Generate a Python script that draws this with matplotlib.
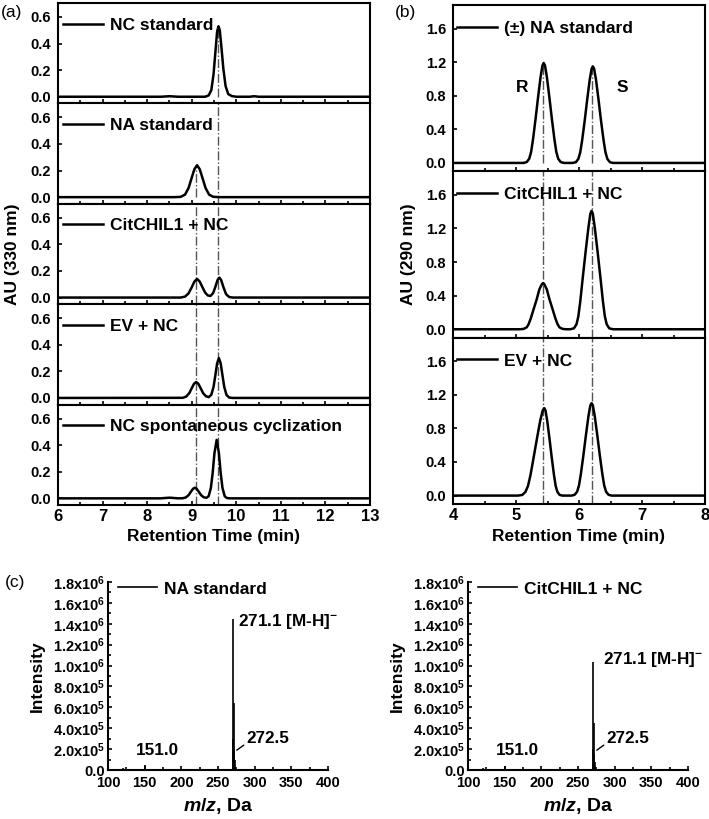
import matplotlib
matplotlib.use("Agg")
import matplotlib.pyplot as plt
from matplotlib.lines import Line2D
from matplotlib.ticker import MultipleLocator
from matplotlib import font_manager

plt.rcParams['font.family'] = ['Liberation Sans', 'DejaVu Sans']
plt.rcParams['font.weight'] = 'bold'
plt.rcParams['axes.labelweight'] = 'bold'
plt.rcParams['mathtext.fontset'] = 'custom'
plt.rcParams['mathtext.rm'] = 'Liberation Sans:bold'
plt.rcParams['mathtext.bf'] = 'Liberation Sans:bold'
plt.rcParams['mathtext.it'] = 'Liberation Sans:italic:bold'

installed = {f.name for f in font_manager.fontManager.ttflist}
narrow = 'Liberation Sans Narrow' if 'Liberation Sans Narrow' in installed else 'Liberation Sans'

# ---------------- (a) HPLC 330 nm ----------------
a_labels = ["NC standard", "NA standard", "CitCHIL1 + NC", "EV + NC",
            "NC spontaneous cyclization"]

a_t1 = [6.0, 8.3, 8.5, 8.7, 9.3, 9.38, 9.44, 9.49, 9.53, 9.57, 9.60, 9.63, 9.67,
        9.71, 9.76, 9.82, 9.90, 10.0, 10.3, 10.4, 10.5, 13.0]
a_y1 = [0, 0, 0.004, 0, 0, 0.01, 0.05, 0.17, 0.33, 0.49, 0.53, 0.50, 0.36,
        0.21, 0.08, 0.02, 0.005, 0, 0, 0.004, 0, 0]

a_t2 = [6.0, 8.6, 8.75, 8.85, 8.93, 9.0, 9.06, 9.12, 9.18, 9.24, 9.31, 9.39,
        9.48, 9.6, 13.0]
a_y2 = [0, 0, 0.002, 0.019, 0.069, 0.146, 0.21, 0.24, 0.21, 0.146, 0.069,
        0.019, 0.003, 0, 0]

a_t3 = [6.0, 8.75, 8.85, 8.93, 9.0, 9.06, 9.12, 9.18, 9.24, 9.30, 9.36, 9.42,
        9.48, 9.53, 9.58, 9.62, 9.66, 9.71, 9.77, 9.84, 9.92, 13.0]
a_y3 = [0, 0, 0.007, 0.032, 0.077, 0.12, 0.14, 0.12, 0.078, 0.038, 0.016,
        0.012, 0.033, 0.08, 0.132, 0.15, 0.132, 0.08, 0.026, 0.004, 0, 0]

a_t4 = [6.0, 8.8, 8.88, 8.95, 9.0, 9.05, 9.1, 9.15, 9.2, 9.26, 9.32, 9.38,
        9.44, 9.49, 9.53, 9.57, 9.61, 9.65, 9.69, 9.73, 9.78, 9.84, 9.92, 13.0]
a_y4 = [0, 0.001, 0.011, 0.039, 0.073, 0.106, 0.12, 0.106, 0.073, 0.034,
        0.013, 0.006, 0.024, 0.083, 0.17, 0.26, 0.30, 0.26, 0.17, 0.083,
        0.023, 0.003, 0, 0]

a_t5 = [6.0, 8.3, 8.5, 8.7, 8.8, 8.87, 8.93, 8.98, 9.03, 9.07, 9.11, 9.16,
        9.21, 9.27, 9.33, 9.38, 9.43, 9.47, 9.51, 9.56, 9.61, 9.65, 9.69,
        9.74, 9.79, 9.88, 13.0]
a_y5 = [0, 0, 0.005, 0, 0.001, 0.007, 0.024, 0.049, 0.072, 0.08, 0.072, 0.049,
        0.024, 0.008, 0.004, 0.016, 0.079, 0.19, 0.34, 0.44, 0.34, 0.19,
        0.079, 0.016, 0.002, 0, 0]

a_traces = [(a_t1, a_y1), (a_t2, a_y2), (a_t3, a_y3), (a_t4, a_y4), (a_t5, a_y5)]
a_ref_na, a_ref_nc = 9.1, 9.6

# ---------------- (b) chiral HPLC 290 nm ----------------
b_labels = ["(\u00b1) NA standard", "CitCHIL1 + NC", "EV + NC"]

b_t1 = [4.0, 5.12, 5.17, 5.21, 5.24, 5.27, 5.31, 5.35, 5.39, 5.42, 5.44, 5.46,
        5.49, 5.53, 5.57, 5.61, 5.64, 5.67, 5.71, 5.76,
        5.90, 5.95, 5.99, 6.02, 6.05, 6.09, 6.13, 6.17, 6.20, 6.22, 6.24,
        6.27, 6.31, 6.35, 6.39, 6.42, 6.45, 6.49, 6.54, 8.0]
b_y1 = [0, 0, 0.01, 0.05, 0.131, 0.28, 0.52, 0.78, 1.023, 1.16, 1.19, 1.16,
        1.023, 0.78, 0.52, 0.28, 0.131, 0.05, 0.01, 0,
        0, 0.009, 0.048, 0.127, 0.27, 0.50, 0.753, 0.99, 1.12, 1.15, 1.12,
        0.99, 0.753, 0.50, 0.27, 0.127, 0.048, 0.009, 0, 0]

b_t2 = [4.0, 5.06, 5.12, 5.17, 5.20, 5.235, 5.28, 5.33, 5.37, 5.41, 5.43, 5.45,
        5.49, 5.53, 5.58, 5.625, 5.66, 5.69, 5.74, 5.80,
        5.86, 5.92, 5.96, 5.99, 6.02, 6.06, 6.105, 6.15, 6.18, 6.20, 6.22,
        6.25, 6.295, 6.34, 6.38, 6.41, 6.44, 6.48, 6.54, 8.0]
b_y2 = [0, 0, 0.004, 0.023, 0.06, 0.13, 0.24, 0.36, 0.473, 0.536, 0.55, 0.536,
        0.473, 0.36, 0.24, 0.13, 0.06, 0.023, 0.004, 0,
        0, 0.011, 0.059, 0.155, 0.331, 0.616, 0.924, 1.213, 1.375, 1.41, 1.375,
        1.213, 0.924, 0.616, 0.331, 0.155, 0.059, 0.011, 0, 0]

b_t3 = [4.0, 5.03, 5.10, 5.15, 5.19, 5.23, 5.28, 5.333, 5.385, 5.424, 5.45,
        5.468, 5.495, 5.531, 5.567, 5.603, 5.63, 5.657, 5.693, 5.738,
        5.88, 5.93, 5.97, 6.00, 6.03, 6.07, 6.11, 6.15, 6.18, 6.20, 6.22,
        6.25, 6.29, 6.33, 6.37, 6.40, 6.43, 6.47, 6.52, 8.0]
b_y3 = [0, 0, 0.008, 0.044, 0.114, 0.244, 0.454, 0.681, 0.894, 1.014, 1.04,
        1.014, 0.894, 0.681, 0.454, 0.244, 0.114, 0.044, 0.008, 0,
        0, 0.009, 0.046, 0.121, 0.259, 0.481, 0.72, 0.946, 1.073, 1.10, 1.073,
        0.946, 0.72, 0.481, 0.259, 0.121, 0.046, 0.009, 0, 0]

b_traces = [(b_t1, b_y1), (b_t2, b_y2), (b_t3, b_y3)]
b_ref_r, b_ref_s = 5.43, 6.21

# ---------------- (c) MS spectra ----------------
c_labels = ["NA standard", "CitCHIL1 + NC"]
c_mz1 = [120.0, 151.0, 270.8, 271.1, 271.4, 271.8, 272.5]
c_int1 = [0.02e6, 0.05e6, 0.30e6, 1.45e6, 0.64e6, 0.20e6, 0.10e6]
c_mz2 = [120.0, 151.0, 270.8, 271.1, 271.4, 271.8, 272.5]
c_int2 = [0.015e6, 0.04e6, 0.20e6, 1.03e6, 0.45e6, 0.15e6, 0.08e6]
c_yticks = [0, 2e5, 4e5, 6e5, 8e5, 1e6, 1.2e6, 1.4e6, 1.6e6, 1.8e6]
c_yticklabels = ["0.0", r"2.0x10$^{5}$", r"4.0x10$^{5}$", r"6.0x10$^{5}$",
                 r"8.0x10$^{5}$", r"1.0x10$^{6}$", r"1.2x10$^{6}$",
                 r"1.4x10$^{6}$", r"1.6x10$^{6}$", r"1.8x10$^{6}$"]

W, H = 709, 819
fig = plt.figure(figsize=(W / 100, H / 100), dpi=100)
DASH = '#555555'


def fx(px):
    return px / W


def fy(py):
    return 1 - py / H


def style_chrom(ax, xlim, ylim, yticks, ylabels, ticklabels):
    ax.set_xlim(*xlim)
    ax.set_ylim(*ylim)
    ax.set_yticks(yticks)
    ax.set_yticklabels(ylabels)
    ax.xaxis.set_major_locator(MultipleLocator(1))
    ax.xaxis.set_minor_locator(MultipleLocator(0.5))
    ax.tick_params(which='both', direction='in', width=1.2)
    ax.tick_params(which='major', length=3)
    ax.tick_params(which='minor', length=2)
    ax.tick_params(axis='y', pad=5, labelsize=10.5)
    ax.tick_params(axis='x', labelbottom=ticklabels, pad=3, labelsize=12)
    for sp in ax.spines.values():
        sp.set_linewidth(1.5)


def add_legend(ax, text, x, y, lw=1.8, size=12.5, hl=2.3):
    h = Line2D([], [], color='black', lw=lw)
    ax.legend([h], [text], loc='center left', bbox_to_anchor=(x, y),
              frameon=False, handlelength=hl, handletextpad=0.4,
              borderpad=0, borderaxespad=0,
              prop={'weight': 'bold', 'size': size})


# panel (a)
a_left, a_right, a_top, a_bot = 58, 370, 3, 505
a_h = (a_bot - a_top) / 5
a_ylim = (-0.05, 0.705)
for i, ((t, y), lab) in enumerate(zip(a_traces, a_labels)):
    top = a_top + i * a_h
    ax = fig.add_axes([fx(a_left), fy(top + a_h), fx(a_right - a_left), a_h / H])
    ax.plot(t, y, color='black', lw=1.8, zorder=3)
    peak = max(y)
    # dash-dot guides through the NA and NC retention times
    if i == 0:
        ax.vlines(a_ref_nc, 0, peak, colors=DASH, linestyles='-.', lw=1)
    elif i == 1:
        ax.vlines(a_ref_nc, a_ylim[0], a_ylim[1], colors=DASH, linestyles='-.', lw=1)
        ax.vlines(a_ref_na, 0, peak, colors=DASH, linestyles='-.', lw=1)
    else:
        ax.vlines([a_ref_na, a_ref_nc], a_ylim[0], a_ylim[1], colors=DASH,
                  linestyles='-.', lw=1)
    style_chrom(ax, (6, 13), a_ylim, [0, 0.2, 0.4, 0.6],
                ["0.0", "0.2", "0.4", "0.6"], i == 4)
    add_legend(ax, lab, 0.016, 0.78)

fig.text(fx(12), fy(254), "AU (330 nm)", rotation=90, ha='center', va='center',
         fontsize=12.5, fontweight='bold')
fig.text(fx(214), fy(536), "Retention Time (min)", ha='center', va='center',
         fontsize=12.5, fontweight='bold')
fig.text(fx(1), fy(13), "(a)", ha='left', va='center', fontsize=12.5,
         fontweight='normal')

# panel (b)
b_left, b_right, b_top, b_bot = 453, 705, 5, 504
b_h = (b_bot - b_top) / 3
b_ylim = (-0.1, 1.88)
for i, ((t, y), lab) in enumerate(zip(b_traces, b_labels)):
    top = b_top + i * b_h
    ax = fig.add_axes([fx(b_left), fy(top + b_h), fx(b_right - b_left), b_h / H])
    ax.plot(t, y, color='black', lw=1.8, zorder=3)
    if i == 0:
        r_peak = max(v for tt, v in zip(t, y) if tt < 5.8)
        s_peak = max(v for tt, v in zip(t, y) if tt > 5.8)
        ax.vlines(b_ref_r, 0, r_peak, colors=DASH, linestyles='-.', lw=1)
        ax.vlines(b_ref_s, 0, s_peak, colors=DASH, linestyles='-.', lw=1)
        ax.text(5.1, 0.9, "R", ha='center', va='center', fontsize=12.5,
                fontweight='bold')
        ax.text(6.69, 0.9, "S", ha='center', va='center', fontsize=12.5,
                fontweight='bold')
    else:
        ax.vlines([b_ref_r, b_ref_s], b_ylim[0], b_ylim[1], colors=DASH,
                  linestyles='-.', lw=1)
    style_chrom(ax, (4, 8), b_ylim, [0, 0.4, 0.8, 1.2, 1.6],
                ["0.0", "0.4", "0.8", "1.2", "1.6"], i == 2)
    add_legend(ax, lab, 0.016, 0.86)

fig.text(fx(408), fy(254), "AU (290 nm)", rotation=90, ha='center', va='center',
         fontsize=12.5, fontweight='bold')
fig.text(fx(579), fy(536), "Retention Time (min)", ha='center', va='center',
         fontsize=12.5, fontweight='bold')
fig.text(fx(395), fy(13), "(b)", ha='left', va='center', fontsize=12.5,
         fontweight='normal')

# panel (c)
c_top, c_bot = 582, 770
c_specs = [(108, 328, c_mz1, c_int1, c_labels[0], 37, (277.5, 1.42e6)),
           (468, 688, c_mz2, c_int2, c_labels[1], 397, (283.5, 1.06e6))]
for left, right, mz, inten, lab, ylab_x, mh_pos in c_specs:
    ax = fig.add_axes([fx(left), fy(c_bot), fx(right - left), (c_bot - c_top) / H])
    ax.vlines(mz, 0, inten, colors='black', lw=1.2)
    ax.set_xlim(100, 400)
    ax.set_ylim(0, 1.8e6)
    ax.spines['top'].set_visible(False)
    ax.spines['right'].set_visible(False)
    for sp in ax.spines.values():
        sp.set_linewidth(1.5)
    ax.set_yticks(c_yticks)
    ax.set_yticklabels(c_yticklabels)
    ax.yaxis.set_minor_locator(MultipleLocator(1e5))
    ax.xaxis.set_major_locator(MultipleLocator(50))
    ax.xaxis.set_minor_locator(MultipleLocator(25))
    ax.tick_params(which='both', direction='in', labelsize=10.5, width=1.2)
    ax.tick_params(which='major', length=3)
    ax.tick_params(which='minor', length=2)
    ax.tick_params(axis='y', pad=2)
    ax.tick_params(axis='x', pad=4)
    for tl in ax.get_xticklabels() + ax.get_yticklabels():
        tl.set_family([narrow, 'Liberation Sans'])
    ax.text(mh_pos[0], mh_pos[1], r"271.1 [M-H]$^{-}$", ha='left', va='center',
            fontsize=12.3, fontweight='bold')
    ax.annotate("272.5", xy=(275.6, 0.19e6), xytext=(289, 0.30e6),
                ha='left', va='center', fontsize=12.3, fontweight='bold',
                arrowprops=dict(arrowstyle='-', color='black', lw=1,
                                shrinkA=0, shrinkB=0, relpos=(0, 0.2)))
    ax.text(167, 0.19e6, "151.0", ha='center', va='center', fontsize=12.3,
            fontweight='bold')
    add_legend(ax, lab, 0.045, 0.963, lw=1.2, size=12.5, hl=2.25)
    fig.text(fx(ylab_x), fy(676), "Intensity", rotation=90, ha='center',
             va='center', fontsize=12.5, fontweight='bold')
    fig.text(fx((left + right) / 2), fy(806), r"$m/z$, Da", ha='center',
             va='center', fontsize=14, fontweight='bold')

fig.text(fx(5), fy(583), "(c)", ha='left', va='center', fontsize=12.5,
         fontweight='normal')

fig.savefig("out.png", dpi=100)
